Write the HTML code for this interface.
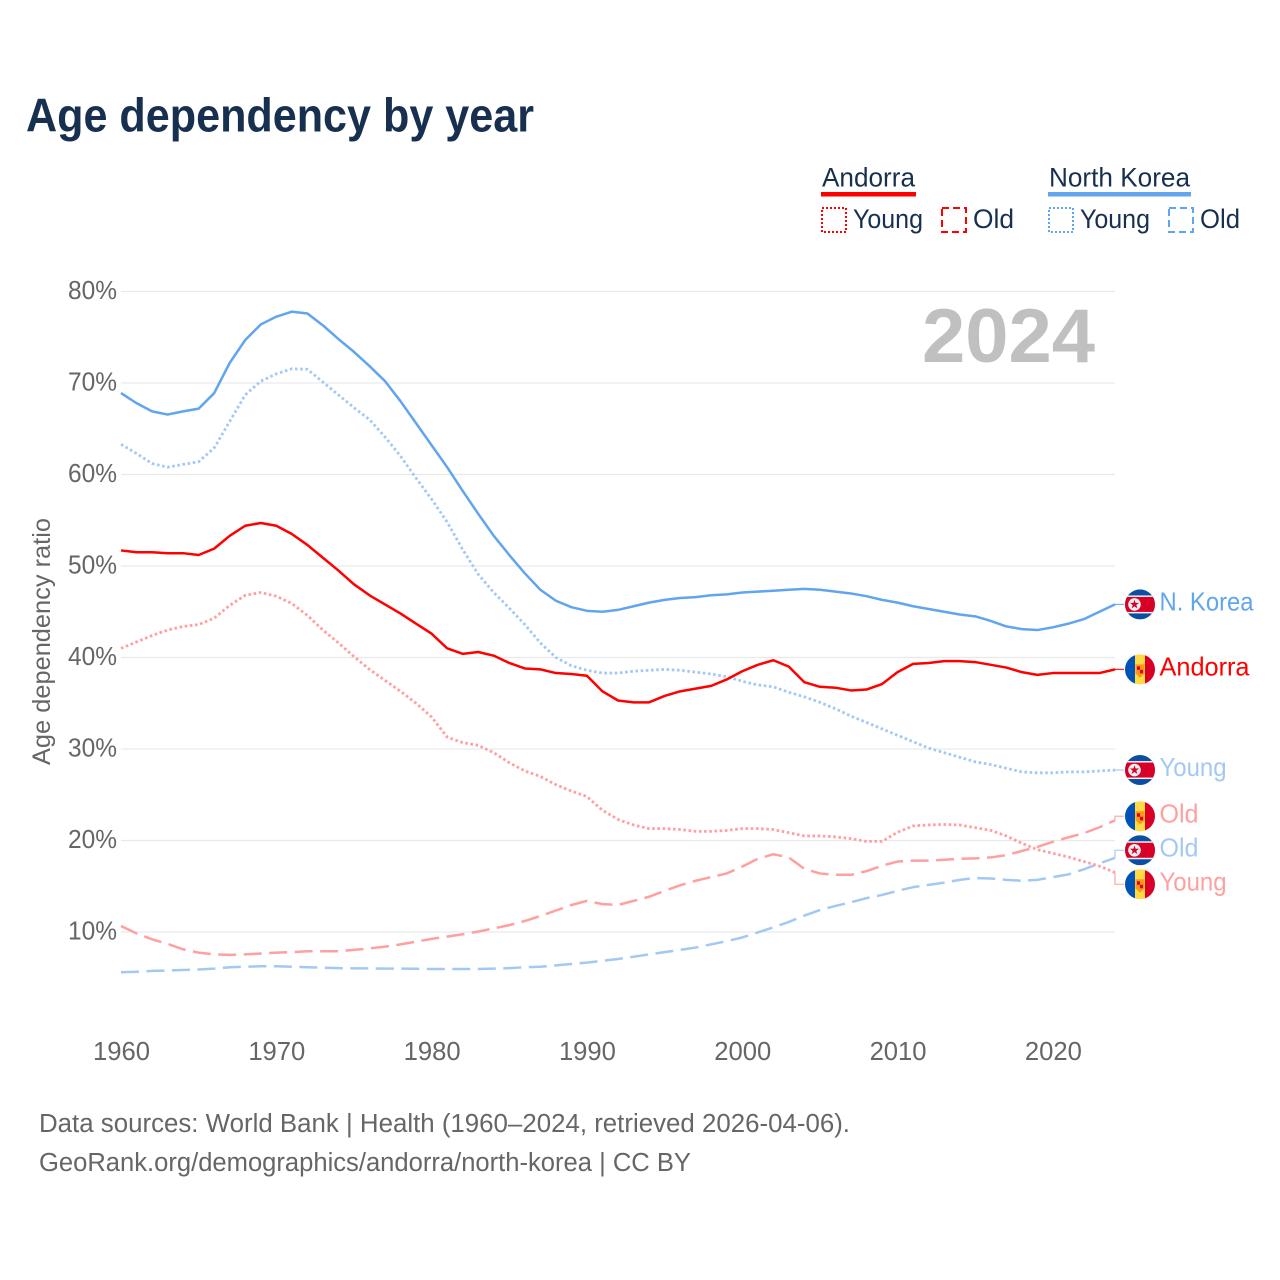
<!DOCTYPE html>
<html lang="en">
<head>
<meta charset="utf-8">
<title>Age dependency by year</title>
<style>
html,body{margin:0;padding:0;background:#fff;}
svg{display:block;}
text{font-family:"Liberation Sans",sans-serif;}
</style>
</head>
<body>
<svg id="chart" xmlns="http://www.w3.org/2000/svg" width="1280" height="1280" viewBox="0 0 1280 1280">
  <defs>
    <clipPath id="flag-clip"><circle cx="0" cy="0" r="15"></circle></clipPath>
  </defs>
  <rect x="0" y="0" width="1280" height="1280" fill="#ffffff"></rect>

  <text x="26" y="131.5" font-size="47" font-weight="700" fill="#18304f" textLength="508" lengthAdjust="spacingAndGlyphs">Age dependency by year</text>

  <g>
    <text x="822" y="186.5" font-size="26.5" fill="#18304f" textLength="93" lengthAdjust="spacingAndGlyphs">Andorra</text>
    <rect x="821" y="192" width="95" height="4.5" fill="#ff0000"></rect>
    <rect x="822" y="208" width="24" height="24" fill="none" stroke="#ff0000" stroke-width="2" stroke-dasharray="2 2"></rect>
    <text x="853" y="228" font-size="26.5" fill="#18304f" textLength="70" lengthAdjust="spacingAndGlyphs">Young</text>
    <rect x="942" y="208" width="24" height="24" fill="none" stroke="#ff0000" stroke-width="2" stroke-dasharray="7 4"></rect>
    <text x="973" y="228" font-size="26.5" fill="#18304f" textLength="41" lengthAdjust="spacingAndGlyphs">Old</text>

    <text x="1049" y="186.5" font-size="26.5" fill="#18304f" textLength="141" lengthAdjust="spacingAndGlyphs">North Korea</text>
    <rect x="1048" y="192" width="143" height="4.5" fill="#60a5ee"></rect>
    <rect x="1049" y="208" width="24" height="24" fill="none" stroke="#60a5ee" stroke-width="2" stroke-dasharray="2 2"></rect>
    <text x="1080" y="228" font-size="26.5" fill="#18304f" textLength="70" lengthAdjust="spacingAndGlyphs">Young</text>
    <rect x="1169" y="208" width="24" height="24" fill="none" stroke="#60a5ee" stroke-width="2" stroke-dasharray="7 4"></rect>
    <text x="1200" y="228" font-size="26.5" fill="#18304f" textLength="40" lengthAdjust="spacingAndGlyphs">Old</text>
  </g>

  <text transform="translate(50 641.5) rotate(-90)" text-anchor="middle" font-size="25" fill="#666666" textLength="247" lengthAdjust="spacingAndGlyphs">Age dependency ratio</text>

  <g id="grid"></g>
  <g id="y-ticks"></g>
  <g id="x-ticks"></g>

  <text x="922" y="362" font-size="76" font-weight="700" fill="#c0c0c0" textLength="173" lengthAdjust="spacingAndGlyphs">2024</text>

  <g id="series"></g>
  <g id="end-labels"></g>

  <text x="39" y="1132" font-size="25.5" fill="#666666" textLength="811" lengthAdjust="spacingAndGlyphs">Data sources: World Bank | Health (1960–2024, retrieved 2026-04-06).</text>
  <text x="39" y="1171" font-size="25.5" fill="#666666" textLength="652" lengthAdjust="spacingAndGlyphs">GeoRank.org/demographics/andorra/north-korea | CC BY</text>
</svg>

<script>
const years = [1960,1961,1962,1963,1964,1965,1966,1967,1968,1969,
  1970,1971,1972,1973,1974,1975,1976,1977,1978,1979,
  1980,1981,1982,1983,1984,1985,1986,1987,1988,1989,
  1990,1991,1992,1993,1994,1995,1996,1997,1998,1999,
  2000,2001,2002,2003,2004,2005,2006,2007,2008,2009,
  2010,2011,2012,2013,2014,2015,2016,2017,2018,2019,
  2020,2021,2022,2023,2024];
const xTickYears = [1960,1970,1980,1990,2000,2010,2020];
const yTickValues = [10,20,30,40,50,60,70,80];

const northKoreaTotal = [68.9,67.8,66.9,66.55,66.9,67.2,68.9,72.2,74.7,76.4,
  77.25,77.8,77.6,76.3,74.8,73.4,71.85,70.2,68,65.6,
  63.2,60.8,58.2,55.7,53.3,51.2,49.2,47.4,46.2,45.5,
  45.1,45.0,45.2,45.6,46.0,46.3,46.5,46.6,46.8,46.9,
  47.1,47.2,47.3,47.4,47.5,47.4,47.2,47.0,46.7,46.3,
  46.0,45.6,45.3,45.0,44.7,44.5,44.0,43.4,43.1,43.0,
  43.3,43.7,44.2,45.0,45.8];
const northKoreaYoung = [63.3,62.3,61.2,60.8,61.1,61.4,62.9,65.8,68.7,70.2,
  71,71.55,71.5,70.1,68.7,67.3,66,64.1,62,59.6,
  57.3,54.8,51.8,49.1,47.1,45.4,43.6,41.6,40.0,39.1,
  38.6,38.3,38.3,38.5,38.6,38.7,38.6,38.4,38.2,37.9,
  37.4,37.0,36.8,36.2,35.7,35.1,34.4,33.6,32.9,32.2,
  31.5,30.8,30.1,29.6,29.1,28.6,28.3,27.9,27.5,27.4,
  27.4,27.5,27.5,27.6,27.7];
const northKoreaOld = [5.6,5.65,5.75,5.78,5.85,5.9,6.0,6.15,6.2,6.25,
  6.25,6.2,6.15,6.1,6.05,6.03,6.02,6.0,6.0,5.98,
  5.95,5.95,5.95,5.95,6.0,6.05,6.15,6.2,6.35,6.5,
  6.65,6.85,7.05,7.3,7.55,7.8,8.05,8.3,8.65,9.0,
  9.4,9.95,10.5,11.1,11.8,12.4,12.85,13.25,13.7,14.05,
  14.5,14.9,15.15,15.4,15.7,15.9,15.85,15.7,15.6,15.7,
  16.0,16.3,16.85,17.5,18.1];
const andorraTotal = [51.7,51.5,51.5,51.4,51.4,51.2,51.9,53.3,54.4,54.7,
  54.4,53.5,52.3,50.9,49.5,48.0,46.8,45.8,44.8,43.7,
  42.6,41.0,40.4,40.6,40.2,39.4,38.8,38.7,38.3,38.2,
  38.0,36.3,35.3,35.1,35.1,35.8,36.3,36.6,36.9,37.6,
  38.5,39.2,39.7,39.0,37.3,36.8,36.7,36.4,36.5,37.1,
  38.4,39.3,39.4,39.6,39.6,39.5,39.2,38.9,38.4,38.1,
  38.3,38.3,38.3,38.3,38.7];
const andorraYoung = [41.0,41.7,42.4,43.0,43.4,43.6,44.3,45.7,46.8,47.1,
  46.7,45.9,44.6,43.0,41.6,40.1,38.7,37.5,36.3,35.0,
  33.5,31.3,30.7,30.4,29.6,28.5,27.6,27.0,26.1,25.4,
  24.8,23.3,22.3,21.7,21.3,21.3,21.2,21.0,21.0,21.1,
  21.3,21.3,21.2,20.85,20.5,20.5,20.4,20.2,19.9,19.9,
  20.9,21.6,21.7,21.75,21.7,21.4,21.1,20.5,19.7,19.0,
  18.6,18.2,17.7,17.2,16.5];
const andorraOld = [10.65,9.85,9.2,8.7,8.1,7.75,7.55,7.5,7.55,7.65,
  7.75,7.8,7.9,7.9,7.9,8.05,8.2,8.4,8.65,8.95,
  9.25,9.5,9.75,10.05,10.4,10.75,11.2,11.75,12.35,12.95,
  13.4,13.05,12.95,13.4,13.85,14.5,15.1,15.6,16.0,16.4,
  17.15,18.0,18.5,18.15,16.9,16.4,16.25,16.25,16.65,17.25,
  17.7,17.8,17.8,17.9,18.0,18.05,18.15,18.4,18.85,19.3,
  19.85,20.35,20.8,21.45,22.2];

const NS = 'http://www.w3.org/2000/svg';
const PLOT_LEFT = 121, PLOT_RIGHT = 1115;
const Y_ZERO = 1023.5, Y_PER_UNIT = 9.15;

function xScale(year) {
  return PLOT_LEFT + (year - years[0]) / (years[years.length - 1] - years[0]) * (PLOT_RIGHT - PLOT_LEFT);
}
function yScale(value) {
  return Y_ZERO - value * Y_PER_UNIT;
}
function make(tag, parent, attrs) {
  const el = document.createElementNS(NS, tag);
  for (const k in attrs) el.setAttribute(k, attrs[k]);
  parent.appendChild(el);
  return el;
}

/* gridlines and axis ticks */
const gridGroup = document.getElementById('grid');
const yTickGroup = document.getElementById('y-ticks');
const xTickGroup = document.getElementById('x-ticks');

yTickValues.forEach(function (v) {
  const line = make('line', gridGroup, {x1: PLOT_LEFT, x2: PLOT_RIGHT, y1: yScale(v), y2: yScale(v), stroke: '#e9e9e9', 'stroke-width': 1.3});
  
  
  const label = make('text', yTickGroup, {x: 117, y: yScale(v) + 7.5, 'text-anchor': 'end', 'font-size': 25.5, fill: '#666666', textLength: 49, lengthAdjust: 'spacingAndGlyphs'});
  label.textContent = v + '%';
  
  
});

xTickYears.forEach(function (yr) {
  const label = make('text', xTickGroup, {x: xScale(yr) + 0.5, y: 1060, 'text-anchor': 'middle', 'font-size': 25.5, fill: '#666666', textLength: 57, lengthAdjust: 'spacingAndGlyphs'});
  label.textContent = yr;
  
  
});

/* series lines */
const LINE_WIDTH = 2.5;
const seriesList = [
  {key: 'north-korea-old', values: northKoreaOld, color: '#a3c9f2', dash: '18 7.5', width: LINE_WIDTH, label: 'Old', labelWidth: 39, country: 'kp'},
  {key: 'andorra-old', values: andorraOld, color: '#ffa0a0', dash: '18 7.5', width: LINE_WIDTH, label: 'Old', labelWidth: 39, country: 'ad'},
  {key: 'north-korea-young', values: northKoreaYoung, color: '#a3c9f2', dash: '2.6 2.6', width: 2.8, label: 'Young', labelWidth: 67, country: 'kp'},
  {key: 'andorra-young', values: andorraYoung, color: '#ffa0a0', dash: '2.6 2.6', width: 2.8, label: 'Young', labelWidth: 67, country: 'ad'},
  {key: 'north-korea-total', values: northKoreaTotal, color: '#60a5ee', dash: '', width: LINE_WIDTH, label: 'N. Korea', labelWidth: 94, country: 'kp'},
  {key: 'andorra-total', values: andorraTotal, color: '#ff0000', dash: '', width: LINE_WIDTH, label: 'Andorra', labelWidth: 90, country: 'ad'}
];

const seriesGroup = document.getElementById('series');
seriesList.forEach(function (s) {
  const d = s.values.map(function (v, i) {
    return (i ? 'L' : 'M') + xScale(years[i]).toFixed(2) + ' ' + yScale(v).toFixed(2);
  }).join(' ');
  const path = make('path', seriesGroup, {d: d, fill: 'none', stroke: s.color, 'stroke-width': s.width, 'stroke-linejoin': 'round'});
  if (s.dash) path.setAttribute('stroke-dasharray', s.dash);
  
  
});

/* dodge the end labels so their flags do not collide */
const LABEL_GAP = 34;
function dodge(items) {
  const sorted = items.slice().sort(function (a, b) { return a.endY - b.endY; });
  let clusters = sorted.map(function (it) { return {items: [it], center: it.endY}; });
  let merged = true;
  while (merged) {
    merged = false;
    for (let i = 0; i < clusters.length - 1; i++) {
      const a = clusters[i], b = clusters[i + 1];
      const aBottom = a.center + (a.items.length - 1) * LABEL_GAP / 2;
      const bTop = b.center - (b.items.length - 1) * LABEL_GAP / 2;
      if (bTop - aBottom < LABEL_GAP) {
        const all = a.items.concat(b.items);
        const mean = all.reduce(function (t, it) { return t + it.endY; }, 0) / all.length;
        clusters.splice(i, 2, {items: all, center: mean});
        merged = true;
        break;
      }
    }
  }
  clusters.forEach(function (c) {
    c.items.forEach(function (it, i) {
      it.labelY = c.center + (i - (c.items.length - 1) / 2) * LABEL_GAP;
    });
  });
}

const labelItems = seriesList.map(function (s) {
  return {series: s, endY: yScale(s.values[s.values.length - 1]), labelY: 0};
});
dodge(labelItems);

function drawNorthKoreaFlag(g) {
  make('rect', g, {x: -15, y: -15, width: 30, height: 30, fill: '#0b4ea2'});
  make('rect', g, {x: -15, y: -9, width: 30, height: 18, fill: '#f0f0f0'});
  make('rect', g, {x: -15, y: -7.5, width: 30, height: 15, fill: '#d80027'});
  make('circle', g, {cx: -5.5, cy: 0, r: 6.3, fill: '#f0f0f0'});
  make('polygon', g, {points: '-5.5,-4.8 -4.4,-1.5 -0.9,-1.5 -3.7,0.6 -2.6,3.9 -5.5,1.9 -8.4,3.9 -7.3,0.6 -10.1,-1.5 -6.6,-1.5', fill: '#d80027'});
}
function drawAndorraFlag(g) {
  make('rect', g, {x: -15, y: -15, width: 10, height: 30, fill: '#0052b4'});
  make('rect', g, {x: -5, y: -15, width: 10, height: 30, fill: '#ffda44'});
  make('rect', g, {x: 5, y: -15, width: 10, height: 30, fill: '#d80027'});
  make('path', g, {d: 'M-4.5 -5 H4.5 V4 L0 8.5 L-4.5 4 Z', fill: '#ff9811'});
  make('rect', g, {x: -3, y: -3, width: 3, height: 3.5, fill: '#d80027'});
  make('rect', g, {x: 0, y: 0.5, width: 3, height: 3.5, fill: '#d80027'});
}

const endGroup = document.getElementById('end-labels');
const CONNECT_END = 1124, FLAG_X = 1140, LABEL_X = 1159.5;
labelItems.forEach(function (item) {
  const s = item.series;
  const connector = make('path', endGroup, {
    d: 'M' + PLOT_RIGHT + ' ' + item.endY.toFixed(2) + ' V' + item.labelY.toFixed(2) + ' H' + CONNECT_END,
    fill: 'none', stroke: s.color, 'stroke-width': 1.3, opacity: 0.85
  });
  
  

  const flag = make('g', endGroup, {transform: 'translate(' + FLAG_X + ' ' + item.labelY.toFixed(2) + ')', 'clip-path': 'url(#flag-clip)'});
  
  
  if (s.country === 'kp') drawNorthKoreaFlag(flag); else drawAndorraFlag(flag);

  const text = make('text', endGroup, {x: LABEL_X, y: (item.labelY + 6).toFixed(2), 'font-size': 26, fill: s.color, textLength: s.labelWidth, lengthAdjust: 'spacingAndGlyphs'});
  text.textContent = s.label;
  
  
});
</script>
</body>
</html>
